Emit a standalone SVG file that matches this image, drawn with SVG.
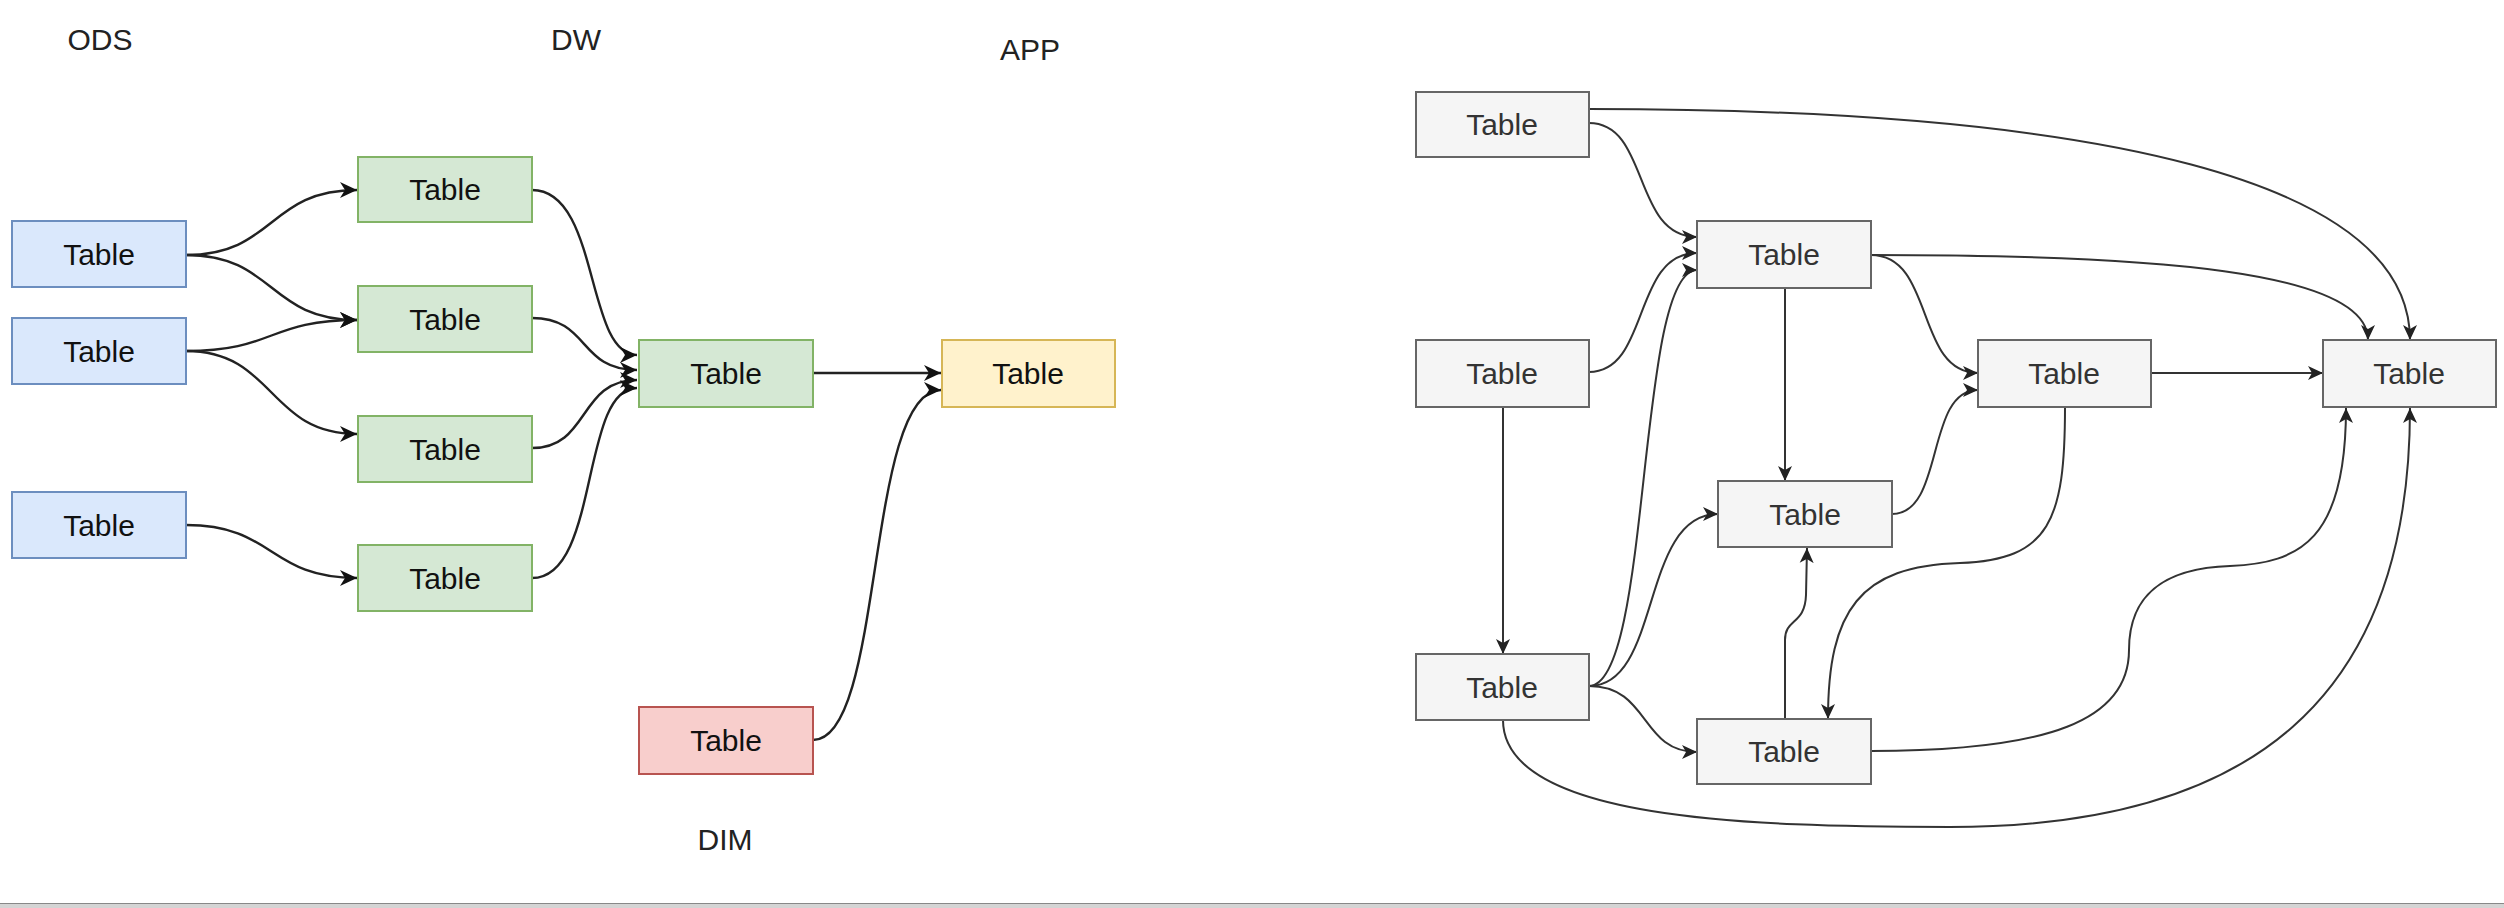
<svg xmlns="http://www.w3.org/2000/svg" width="2504" height="908" viewBox="0 0 2504 908">
<defs>
<style>
.lbl{font-family:"Liberation Sans",Arial,sans-serif;font-size:30px;text-anchor:middle;fill:#111}
.lblg{font-family:"Liberation Sans",Arial,sans-serif;font-size:30px;text-anchor:middle;fill:#333}
.hdr{font-family:"Liberation Sans",Arial,sans-serif;font-size:30px;text-anchor:middle;fill:#222}
.blue{fill:#dae8fc;stroke:#6c8ebf;stroke-width:2}
.green{fill:#d5e8d4;stroke:#82b366;stroke-width:2}
.yellow{fill:#fff2cc;stroke:#d6b656;stroke-width:2}
.red{fill:#f8cecc;stroke:#b85450;stroke-width:2}
.gray{fill:#f5f5f5;stroke:#666;stroke-width:2}
.cl{fill:none;stroke:#222;stroke-width:2.4}
.cr{fill:none;stroke:#333;stroke-width:2}
</style>
<marker id="ah" markerUnits="userSpaceOnUse" markerWidth="20" markerHeight="20" refX="17" refY="10" orient="auto">
<path d="M0,2 L17,10 L0,18 L5,10 z" fill="#111"/>
</marker>
<marker id="ahr" markerUnits="userSpaceOnUse" markerWidth="18" markerHeight="18" refX="15" refY="9" orient="auto">
<path d="M0,2 L15,9 L0,16 L4,9 z" fill="#222"/>
</marker>
</defs>
<rect width="2504" height="908" fill="#fff"/>

<g id="headers">
<text class="hdr" x="100" y="50">ODS</text>
<text class="hdr" x="576" y="50">DW</text>
<text class="hdr" x="1030" y="60">APP</text>
<text class="hdr" x="725" y="850">DIM</text>
</g>

<g id="connectors">
<path class="cl" marker-end="url(#ah)" d="M186,255 C275,255 268,190 357,190"/>
<path class="cl" marker-end="url(#ah)" d="M186,255 C275,255 268,320 357,320"/>
<path class="cl" marker-end="url(#ah)" d="M186,351 C275,351 268,320 357,320"/>
<path class="cl" marker-end="url(#ah)" d="M186,351 C275,351 268,434 357,434"/>
<path class="cl" marker-end="url(#ah)" d="M186,525 C275,525 268,578 357,578"/>
<path class="cl" marker-end="url(#ah)" d="M532,190 C600,190 585,355 637,355"/>
<path class="cl" marker-end="url(#ah)" d="M532,318 C590,318 578,370 637,370"/>
<path class="cl" marker-end="url(#ah)" d="M532,448 C590,448 578,380 637,380"/>
<path class="cl" marker-end="url(#ah)" d="M532,578 C600,578 580,388 637,388"/>
<path class="cl" marker-end="url(#ah)" d="M813,373 L941,373"/>
<path class="cl" marker-end="url(#ah)" d="M813,740 C885,740 865,390 941,390"/>

<path class="cr" marker-end="url(#ahr)" d="M1589,109 C2100,109 2410,180 2410,340"/>
<path class="cr" marker-end="url(#ahr)" d="M1589,123 C1650,123 1632,237 1697,237"/>
<path class="cr" marker-end="url(#ahr)" d="M1589,372 C1650,372 1632,253 1697,253"/>
<path class="cr" marker-end="url(#ahr)" d="M1589,686 C1652,686 1636,270 1697,270"/>
<path class="cr" marker-end="url(#ahr)" d="M1871,255 C2150,255 2368,270 2368,340"/>
<path class="cr" marker-end="url(#ahr)" d="M1871,255 C1935,255 1915,373 1978,373"/>
<path class="cr" marker-end="url(#ahr)" d="M1785,288 L1785,481"/>
<path class="cr" marker-end="url(#ahr)" d="M1503,407 L1503,654"/>
<path class="cr" marker-end="url(#ahr)" d="M2151,373 L2323,373"/>
<path class="cr" marker-end="url(#ahr)" d="M2065,407 C2065,520 2050,560 1960,563 C1860,566 1828,610 1828,719"/>
<path class="cr" marker-end="url(#ahr)" d="M1892,514 C1945,514 1925,390 1978,390"/>
<path class="cr" marker-end="url(#ahr)" d="M1589,686 C1662,686 1640,514 1718,514"/>
<path class="cr" marker-end="url(#ahr)" d="M1589,686 C1650,686 1640,752 1697,752"/>
<path class="cr" marker-end="url(#ahr)" d="M1785,719 L1785,640 C1785,618 1805,625 1806,595 L1807,548"/>
<path class="cr" marker-end="url(#ahr)" d="M1871,751 C2050,751 2129,720 2129,650 C2129,590 2170,568 2230,566 C2300,563 2346,540 2346,408"/>
<path class="cr" marker-end="url(#ahr)" d="M1503,720 C1503,820 1750,827 1950,827 C2250,827 2410,700 2410,408"/>
</g>

<g id="ods1"><rect class="blue" x="12" y="221" width="174" height="66"/><text class="lbl" x="99" y="265">Table</text></g>
<g id="ods2"><rect class="blue" x="12" y="318" width="174" height="66"/><text class="lbl" x="99" y="362">Table</text></g>
<g id="ods3"><rect class="blue" x="12" y="492" width="174" height="66"/><text class="lbl" x="99" y="536">Table</text></g>
<g id="dw1"><rect class="green" x="358" y="157" width="174" height="65"/><text class="lbl" x="445" y="200">Table</text></g>
<g id="dw2"><rect class="green" x="358" y="286" width="174" height="66"/><text class="lbl" x="445" y="330">Table</text></g>
<g id="dw3"><rect class="green" x="358" y="416" width="174" height="66"/><text class="lbl" x="445" y="460">Table</text></g>
<g id="dw4"><rect class="green" x="358" y="545" width="174" height="66"/><text class="lbl" x="445" y="589">Table</text></g>
<g id="dw5"><rect class="green" x="639" y="340" width="174" height="67"/><text class="lbl" x="726" y="384">Table</text></g>
<g id="app"><rect class="yellow" x="942" y="340" width="173" height="67"/><text class="lbl" x="1028" y="384">Table</text></g>
<g id="dim"><rect class="red" x="639" y="707" width="174" height="67"/><text class="lbl" x="726" y="751">Table</text></g>

<g id="nA"><rect class="gray" x="1416" y="92" width="173" height="65"/><text class="lblg" x="1502" y="135">Table</text></g>
<g id="nB"><rect class="gray" x="1697" y="221" width="174" height="67"/><text class="lblg" x="1784" y="265">Table</text></g>
<g id="nC"><rect class="gray" x="1416" y="340" width="173" height="67"/><text class="lblg" x="1502" y="384">Table</text></g>
<g id="nD"><rect class="gray" x="1978" y="340" width="173" height="67"/><text class="lblg" x="2064" y="384">Table</text></g>
<g id="nE"><rect class="gray" x="2323" y="340" width="173" height="67"/><text class="lblg" x="2409" y="384">Table</text></g>
<g id="nF"><rect class="gray" x="1718" y="481" width="174" height="66"/><text class="lblg" x="1805" y="525">Table</text></g>
<g id="nG"><rect class="gray" x="1416" y="654" width="173" height="66"/><text class="lblg" x="1502" y="698">Table</text></g>
<g id="nH"><rect class="gray" x="1697" y="719" width="174" height="65"/><text class="lblg" x="1784" y="762">Table</text></g>

<g id="bottom-bar">
<rect x="0" y="903" width="2504" height="5" fill="#d4d4d4"/>
<line x1="0" y1="903.5" x2="2504" y2="903.5" stroke="#888" stroke-width="1"/>
</g>
</svg>
